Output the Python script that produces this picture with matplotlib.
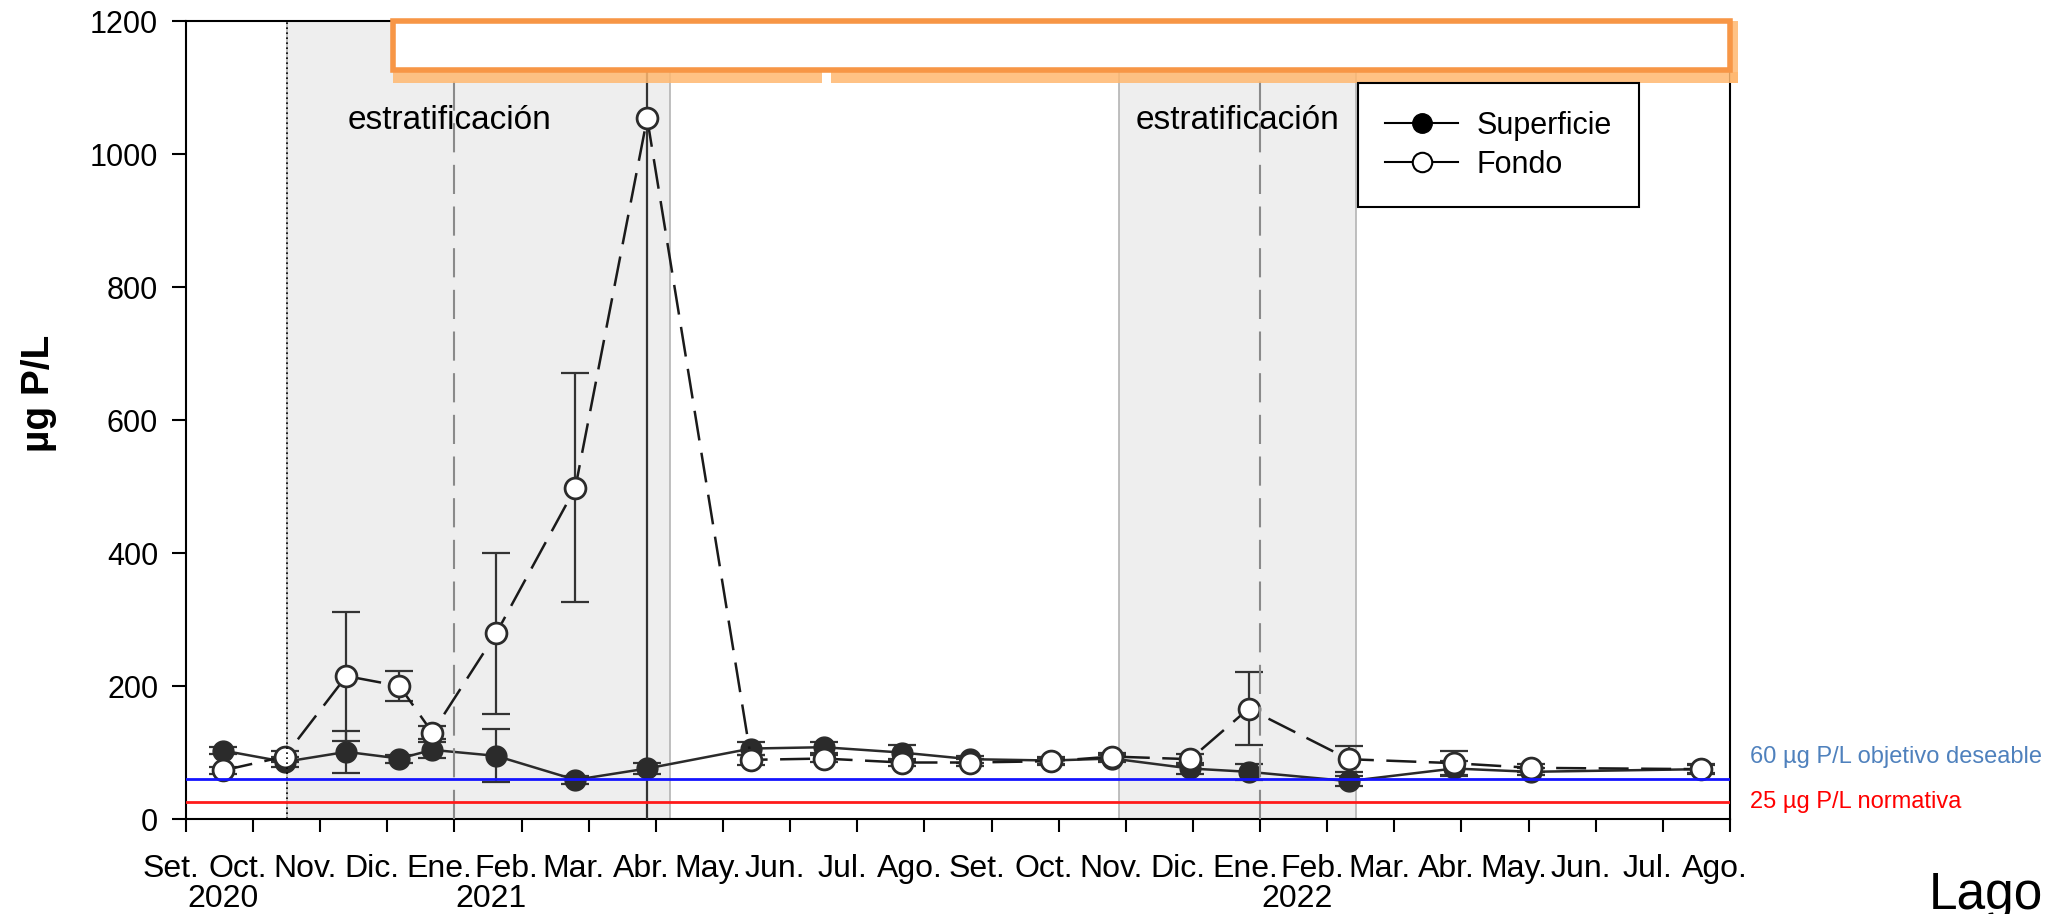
import numpy as np
import matplotlib.pyplot as plt
import matplotlib.transforms as mtransforms
from matplotlib.lines import Line2D
from matplotlib.patches import Rectangle

plt.rcParams['font.family'] = ['Liberation Sans', 'DejaVu Sans']

meses = ['Set.', 'Oct.', 'Nov.', 'Dic.', 'Ene.', 'Feb.', 'Mar.', 'Abr.', 'May.', 'Jun.', 'Jul.', 'Ago.',
         'Set.', 'Oct.', 'Nov.', 'Dic.', 'Ene.', 'Feb.', 'Mar.', 'Abr.', 'May.', 'Jun.', 'Jul.', 'Ago.']
anios = ['2020', '2021', '2022']
anio_pos = [0.55, 4.55, 16.55]

# fecha de cada muestreo en meses contados desde setiembre 2020
muestreo = [0.55, 1.47, 2.39, 3.18, 3.67, 4.62, 5.80, 6.87, 8.42, 9.50,
            10.66, 11.68, 12.89, 13.80, 14.96, 15.83, 17.32, 18.89, 20.03, 22.57]

superficie = [103, 86, 101, 91, 104, 95, 59, 76, 106, 108,
              100, 90, 88, 91, 76, 71, 57, 76, 71, 75]
superficie_err = [5, 8, 32, 6, 12, 40, 6, 8, 10, 8,
                  12, 5, 5, 5, 8, 12, 8, 12, 5, 6]
fondo = [73, 94, 215, 200, 130, 279, 498, 1054, 89, 91,
         85, 85, 87, 94, 90, 166, 90, 84, 77, 75]
fondo_err = [5, 8, 97, 23, 10, 121, 172, 1100, 8, 5,
             5, 5, 5, 5, 8, 55, 20, 18, 6, 8]

estratificacion = [(1.50, 7.21), (13.90, 17.43)]
texto_estrat = [3.92, 15.66]
inicio_anio = [4, 16]
inicio_serie = 1.50

objetivo = 60
normativa = 25

fig = plt.figure(figsize=(20.55, 9.14), dpi=100)
ax = fig.add_axes([0.0905, 0.1039, 0.7513, 0.8731])

# periodos de estratificacion
for a, b in estratificacion:
    ax.axvspan(a, b, facecolor='#eeeeee', edgecolor='#b4b4b4', lw=1.2, zorder=0)
for xt in texto_estrat:
    ax.text(xt, 1050, 'estratificación', ha='center', va='center', fontsize=24, zorder=3)

ax.axvline(inicio_serie, color='black', ls=(0, (1, 2)), lw=1.2, zorder=6)
for x in inicio_anio:
    ax.axvline(x, color='#8a8a8a', ls=(0, (14, 6)), lw=1.5, zorder=6)

# barras de error
ax.errorbar(muestreo, fondo, yerr=fondo_err, fmt='none', ecolor='#333333',
            elinewidth=1.6, capsize=10, capthick=1.6, zorder=3)
ax.errorbar(muestreo, superficie, yerr=superficie_err, fmt='none', ecolor='#333333',
            elinewidth=1.6, capsize=10, capthick=1.6, zorder=3)

ax.plot(muestreo, superficie, '-o', color='#2b2b2b', lw=1.8, ms=15, zorder=4)
ax.plot(muestreo, fondo, color='#1a1a1a', ls=(0, (12, 5)), lw=1.8, marker='o', ms=15,
        mfc='white', mec='#2b2b2b', mew=2, zorder=5)

ax.axhline(objetivo, color='#1414ff', lw=2, zorder=6)
ax.axhline(normativa, color='#ff1a1a', lw=2, zorder=6)

ax.set_xticks(np.arange(24))
ax.set_xticklabels(meses)
ax.set_yticks(np.arange(0, 1201, 200))
ax.set_xlim(0, 23)
ax.set_ylim(0, 1200)
ax.tick_params(axis='x', direction='out', length=9, width=1.5, pad=16, labelsize=23)
ax.tick_params(axis='y', direction='out', length=10, width=1.5, pad=10, labelsize=22)
for s in ax.spines.values():
    s.set_linewidth(1.5)

# los nombres de mes van un poco a la izquierda de su marca
corrimiento = mtransforms.ScaledTranslation(-0.15, 0, fig.dpi_scale_trans)
for lab in ax.get_xticklabels():
    lab.set_transform(lab.get_transform() + corrimiento)

for t, x in zip(anios, anio_pos):
    ax.text(x, -0.1, t, transform=ax.get_xaxis_transform(), ha='center', va='center', fontsize=23)

fig.text(39 / 2055, 1 - 393 / 914, 'µg P/L', rotation=90, ha='center', va='center',
         fontsize=28, fontweight='bold')

arriba = mtransforms.offset_copy(ax.get_yaxis_transform(), fig=fig, x=0, y=22, units='dots')
ax.text(1.013, objetivo, '60 µg P/L objetivo deseable', transform=arriba,
        color='#4f81bd', fontsize=17, va='center')
ax.text(1.013, normativa, '25 µg P/L normativa', transform=ax.get_yaxis_transform(),
        color='#ff0000', fontsize=17, va='center')
fig.text(1929 / 2055, 0.005, 'Lago', fontsize=37, ha='left', va='baseline')

# recuadro de titulo (vacio) con su sombra
ax.add_patch(Rectangle((0.134, 0.9386), 0.866, 0.0614, transform=ax.transAxes, facecolor='white',
                       edgecolor='#f79646', lw=4, clip_on=False, zorder=8))
for a, b in [(0.134, 0.412), (0.418, 1.0055)]:
    ax.add_patch(Rectangle((a, 0.922), b - a, 0.0142, transform=ax.transAxes, facecolor='#ffb870',
                           alpha=0.85, lw=0, clip_on=False, zorder=7))
ax.add_patch(Rectangle((1.0, 0.922), 0.0055, 0.078, transform=ax.transAxes, facecolor='#ffb870',
                       alpha=0.85, lw=0, clip_on=False, zorder=7))

handles = [Line2D([], [], color='black', lw=1.5, marker='o', ms=14, mfc='black'),
           Line2D([], [], color='black', lw=1.5, marker='o', ms=14, mfc='white', mec='black', mew=1.5)]
leg = ax.legend(handles, ['Superficie', 'Fondo'], loc='upper left', bbox_to_anchor=(0.7588, 0.9223),
                fontsize=22, frameon=True, fancybox=False, edgecolor='black', framealpha=1,
                borderpad=0.9, handlelength=2.4, handletextpad=0.6, labelspacing=0.3,
                borderaxespad=0)
leg.get_frame().set_linewidth(1.5)
leg.set_zorder(9)

fig.savefig('out.png', dpi=100)
